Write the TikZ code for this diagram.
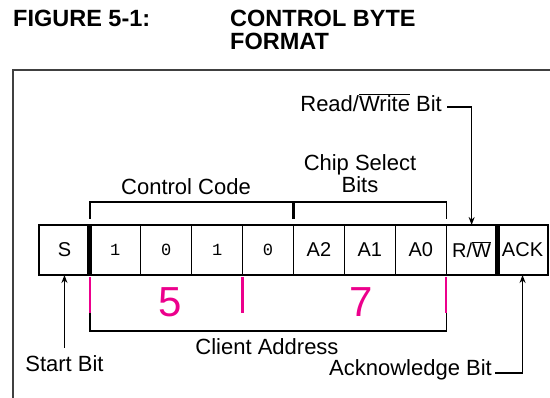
\documentclass[tikz,border=0pt]{standalone}
\usepackage{fontspec}
\setmainfont{Liberation Sans}
\newfontfamily\bitfont{Liberation Mono}
\usepackage{xcolor}
\usetikzlibrary{arrows.meta,positioning,calc}
\newcommand{\ovl}[1]{$\overline{\mbox{#1}}$}
\tikzset{
  cell/.style={rectangle, draw=black, line width=1.3pt, inner sep=0pt, outer sep=0pt,
    minimum width=50.9pt, minimum height=50pt, font=\fontsize{20}{22}\selectfont},
  bit/.style={cell, font=\bitfont\fontsize{17}{18}\selectfont},
  lbl/.style={inner sep=0pt, align=center, font=\fontsize{22}{22}\selectfont},
  title/.style={inner sep=0pt, align=left, font=\bfseries\fontsize{23.5}{23}\selectfont},
  brace/.style={line width=1.3pt},
  flow/.style={-{Stealth[length=8pt, width=6pt]}, line width=1.3pt},
  sep/.style={line width=5pt},
  addr/.style={magenta, line width=2.5pt},
  digit/.style={inner sep=0pt, text=magenta, font=\fontsize{42}{42}\selectfont},
  frame/.style={draw=black!75, line width=2.2pt},
}
\begin{document}
\begin{tikzpicture}[x=1pt, y=-1pt, node distance=0pt]
\useasboundingbox (0,0) rectangle (550,398);
% heading
\node[title, anchor=base west] (fig) at (13,27) {FIGURE 5-1:};
\node[title, anchor=base west] (cap) at (230,50) {CONTROL BYTE\\FORMAT};
\draw[frame] (13,398) |- (550,70);
% byte
\node[cell] (s) at (64.45,250) {S};
\node[bit, right=of s] (b6) {1};
\node[bit, right=of b6] (b5) {0};
\node[bit, right=of b5] (b4) {1};
\node[bit, right=of b4] (b3) {0};
\node[cell, right=of b3] (a2) {A2};
\node[cell, right=of a2] (a1) {A1};
\node[cell, right=of a1] (a0) {A0};
\node[cell, right=of a0] (rw) {R/\ovl{W}};
\node[cell, right=of rw] (ack) {ACK};
\draw[sep] (s.north east) -- (s.south east);
\draw[sep] (rw.north east) -- (rw.south east);
% top brackets
\draw[brace] ([yshift=6pt]b6.north west) |- ([yshift=23pt]a2.north west)
  -| ([yshift=6pt]a0.north east);
\draw[line width=3pt] ([yshift=23pt]a2.north west) -- ([yshift=6pt]a2.north west);
\node[lbl, anchor=base] (cc) at (186,195) {Control Code};
\node[lbl, anchor=base] (cs) at (360,193) {Chip Select\\Bits};
\node[lbl, anchor=base east] (rwlbl) at (442,112) {Read/\ovl{Write} Bit};
\draw[flow] ([xshift=5pt, yshift=5pt]rwlbl.base east) -| (rw.north);
% address
\draw[addr] ([yshift=-2pt]b6.south west) -- ([yshift=-38pt]b6.south west);
\draw[addr] ([yshift=-2pt]b4.south east) -- ([yshift=-38pt]b4.south east);
\draw[addr] ([yshift=-2pt]a0.south east) -- ([yshift=-38pt]a0.south east);
\node[digit] (five) at (170,302) {5};
\node[digit] (seven) at (361,302) {7};
\draw[brace] ([yshift=-38pt]b6.south west) |- ([yshift=-56pt]b4.south east)
  -| ([yshift=-38pt]a0.south east);
\node[lbl, anchor=base] (ca) at (267,355) {Client Address};
% start / ack
\node[lbl, anchor=base] (stlbl) at ([yshift=-97pt]s.south) {Start Bit};
\draw[flow] ([yshift=24pt]stlbl.base) -- (s.south);
\node[lbl, anchor=base east] (acklbl) at (492,376) {Acknowledge Bit};
\draw[flow] ([xshift=3pt, yshift=3pt]acklbl.base east) -| (ack.south);
\end{tikzpicture}
\end{document}
